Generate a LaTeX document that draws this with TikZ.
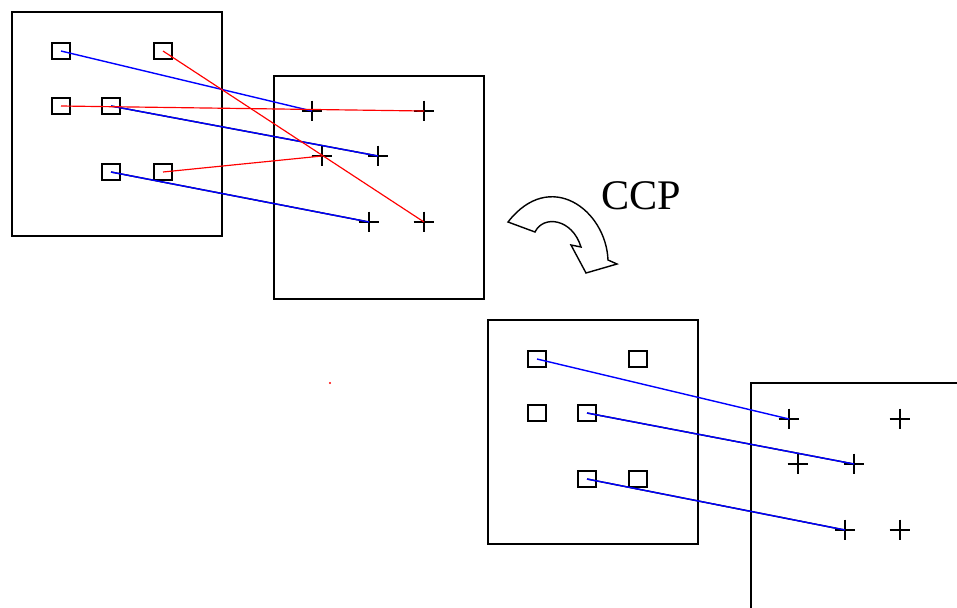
\documentclass[tikz,border=0pt]{standalone}
\usepackage{fontspec}
\setmainfont{Liberation Serif}
\begin{document}
\begin{tikzpicture}[x=0.03cm,y=-0.03cm,
  frame/.style={draw=black,line width=1.5pt},
  sq/.style={draw=black,line width=1.6pt,minimum width=0.56cm,minimum height=0.5cm,inner sep=0pt,fill=white},
  pl/.style={minimum size=0.62cm,inner sep=0pt,
    path picture={\draw[line width=1.4pt,black] (path picture bounding box.north) -- (path picture bounding box.south)
      (path picture bounding box.west) -- (path picture bounding box.east);}},
  bl/.style={draw=blue,line width=1.2pt},
  rd/.style={draw=red,line width=1pt},
  shadow/.style={draw=black,line width=1.2pt,yshift=-0.03cm}]
\useasboundingbox (0,0) rectangle (957,607);
% frames
\draw[frame] (12,12) rectangle (222,236);
\draw[frame] (274,76) rectangle (484,299);
\draw[frame] (488,320) rectangle (698,544);
\draw[frame] (751,383) rectangle (962,612);
% top squares
\node[sq] (a1) at (61,51) {};
\node[sq] (a2) at (163,51) {};
\node[sq] (a3) at (61,106) {};
\node[sq] (a4) at (111,106) {};
\node[sq] (a5) at (111,172) {};
\node[sq] (a6) at (163,172) {};
% top pluses
\node[pl] (p1) at (312,111) {};
\node[pl] (p2) at (424,111) {};
\node[pl] (p3) at (322,156) {};
\node[pl] (p4) at (378,156) {};
\node[pl] (p5) at (369,222) {};
\node[pl] (p6) at (424,222) {};
% top connectors
\draw[shadow] (a4.center) -- (p4.center);
\draw[shadow] (a5.center) -- (p5.center);
\draw[bl] (a1.center) -- (p1.center);
\draw[bl] (a4.center) -- (p4.center);
\draw[bl] (a5.center) -- (p5.center);
\draw[rd] (a2.center) -- (p6.center);
\draw[rd] (a3.center) -- (p2.center);
\draw[rd] (a6.center) -- (p3.center);
% bottom squares
\node[sq] (b1) at (537,359) {};
\node[sq] (b2) at (638,359) {};
\node[sq] (b3) at (537,413) {};
\node[sq] (b4) at (587,413) {};
\node[sq] (b5) at (587,479) {};
\node[sq] (b6) at (638,479) {};
% bottom pluses
\node[pl] (q1) at (789,419) {};
\node[pl] (q2) at (900,419) {};
\node[pl] (q3) at (798,464) {};
\node[pl] (q4) at (854,464) {};
\node[pl] (q5) at (845,530) {};
\node[pl] (q6) at (900,530) {};
% bottom connectors
\draw[shadow] (b4.center) -- (q4.center);
\draw[shadow] (b5.center) -- (q5.center);
\draw[bl] (b1.center) -- (q1.center);
\draw[bl] (b4.center) -- (q4.center);
\draw[bl] (b5.center) -- (q5.center);
% curved arrow
\draw[line width=1.2pt,fill=white] (508,222) -- (535,232)
  .. controls (543,215) and (572,218) .. (581,247) -- (571,245) -- (586,273) -- (617,264) -- (608,260)
  .. controls (606,210) and (550,168) .. (508,222) -- cycle;
\node[font=\fontsize{36}{40}\selectfont,inner sep=0pt] (ccp) at (641,196) {CCP};
% stray dot
\fill[red] (330,383) circle (1.2);
\end{tikzpicture}
\end{document}
